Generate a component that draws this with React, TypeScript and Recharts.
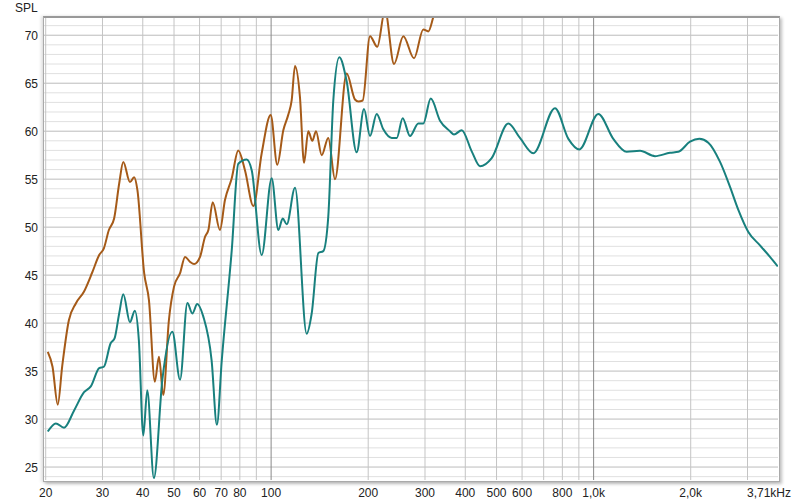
import { LineChart, Line, XAxis, YAxis, ReferenceLine } from 'recharts';

// measured curves (frequency in Hz, level in dB SPL)
const tealFreq = [
  20.3, 21.5, 22.8, 24.5, 26.3, 27.6, 29.3, 30.3, 31.8, 32.7, 33.8, 34.8, 36.5, 37.8, 38.9, 40.15, 41.3, 43.3, 46.0,
  49.4, 52.2, 55.0, 57.0, 59.0, 61.6, 65.4, 67.9, 70.3, 75.5, 79.1, 84.0, 87.1, 93.5, 100.4, 105.3, 108.6, 111.8,
  118.6, 128.9, 133.6, 140.1, 145.1, 150.4, 155.9, 162.7, 171.5, 184.2, 194.1, 202.6, 212.5, 222.8, 236.6, 245.2,
  255.8, 269.6, 286.0, 296.4, 312.6, 334.0, 358.6, 369, 390, 418.8, 444.4, 483, 543.8, 591, 650, 759, 835, 903,
  1034, 1151, 1266, 1393, 1550, 1725, 1831, 1990, 2127, 2268, 2466, 2648, 2810, 3018, 3280, 3523, 3725,
];
const tealSpl = [
  28.7, 29.55, 29.1, 30.9, 32.8, 33.4, 35.3, 35.45, 37.9, 38.4, 41.0, 43.0, 40.1, 41.3, 38.2, 28.3, 33.0, 23.85, 34.1,
  39.1, 34.1, 42.1, 41.0, 42.0, 40.7, 36.1, 29.4, 36.1, 47.6, 56.6, 57.05, 55.9, 47.1, 55.1, 49.7, 50.9, 50.3,
  54.1, 38.9, 41.0, 47.3, 47.5, 51.1, 63.2, 67.7, 65.2, 57.8, 62.3, 59.5, 61.8, 60.2, 59.3, 59.3,
  61.35, 59.5, 60.8, 60.8, 63.4, 61.1, 60.0, 59.65, 60.1, 57.9, 56.35, 57.2, 60.8, 59.3, 57.7, 62.4, 59.2, 58.1,
  61.8, 59.2, 57.85, 57.95, 57.4, 57.75, 57.85, 58.9, 59.2, 58.8, 56.8, 54.2, 51.8, 49.5, 48.1, 46.9, 45.9,
];

const orangeFreq = [
  20.3, 21.0, 21.8, 22.5, 23.6, 24.8, 26.3, 27.9, 29.3, 30.3, 31.4, 32.6, 33.8, 34.8, 36.5, 37.6, 38.5, 40.4, 41.8,
  43.6, 44.9, 46.3, 48.2, 50.0, 52.2, 54.1, 56.0, 57.7, 60.2, 62.4, 63.9, 65.9, 69.4, 71.9, 75.5, 79.1, 83.0, 88.1,
  93.5, 99.7, 104.5, 109.1, 113.0, 115.8, 118.6, 122.9, 126.5, 130.4, 134.2, 137.8, 143.5, 150.4, 157.8, 171.5,
  182.0, 186.4, 192.3, 202.6, 213.4, 225.5, 240.5, 257, 277.4, 296.4, 307.2, 318.4, 329,
];
const orangeSpl = [
  37.0, 35.45, 31.5, 35.5, 40.3, 42.05, 43.3, 45.3, 47.1, 47.8, 49.7, 50.9, 54.55, 56.8, 54.7, 55.2, 53.85, 45.2, 42.4,
  33.9, 36.5, 32.5, 40.3, 43.8, 45.2, 46.9, 46.4, 46.15, 46.9, 49.0, 49.7, 52.6, 49.7, 52.8, 55.1, 58.0, 55.9, 52.2,
  57.7, 61.7, 56.5, 60.1, 61.7, 63.2, 66.8, 63.5, 56.7, 60.0, 59.0, 60.0, 57.5, 59.3, 55.0, 66.0,
  63.3, 63.1, 63.2, 69.9, 68.8, 72.6, 67.0, 69.9, 67.6, 70.6, 70.4, 71.9, 73.5,
];

const xTicks = [20, 30, 40, 50, 60, 70, 80, 100, 200, 300, 400, 500, 600, 800, 1000, 2000, 3710];
const yTicks = [25, 30, 35, 40, 45, 50, 55, 60, 65, 70];
const xGrid = [20, 30, 40, 50, 60, 70, 80, 90, 100, 200, 300, 400, 500, 600, 700, 800, 900, 1000, 2000, 3000];
const yGrid = Array.from({ length: 48 }, (_, i) => 24 + i);

const tealData = tealFreq.map((f, i) => ({ f, v: tealSpl[i] }));
const orangeData = orangeFreq.map((f, i) => ({ f, v: orangeSpl[i] }));

const fmtFreq = (v: number) => {
  if (v === 3710) return '3,71kHz';
  if (v >= 1000) return (v / 1000).toFixed(1).replace('.', ',') + 'k';
  return String(v);
};

const XTick = (props: any) => {
  const { x, payload } = props;
  const last = payload.value === 3710;
  return (
    <text x={last ? 791 : x} y={497} textAnchor={last ? 'end' : 'middle'} fill="#222" fontSize={12}
      fontFamily="'Liberation Sans', Arial, sans-serif">
      {fmtFreq(payload.value)}
    </text>
  );
};

const YTick = (props: any) => {
  const { y, payload } = props;
  return (
    <text x={38} y={y + 4.5} textAnchor="end" fill="#222" fontSize={12}
      fontFamily="'Liberation Sans', Arial, sans-serif">
      {payload.value}
    </text>
  );
};

export default function App() {
  return (
    <div style={{ position: 'absolute', left: 0, top: 0, width: 800, height: 504, background: '#fff' }}>
      <div style={{ position: 'absolute', left: 15, top: 1, fontSize: 12, color: '#222',
        fontFamily: "'Liberation Sans', Arial, sans-serif" }}>SPL</div>
      <LineChart width={800} height={504} margin={{ top: 17, right: 22, bottom: 0, left: 0 }}>
        <XAxis type="number" dataKey="f" scale="log" domain={[19.76, 3730]} ticks={xTicks}
          allowDataOverflow axisLine={false} tickLine={false} height={24} interval={0} tick={<XTick />} />
        <YAxis type="number" domain={[23.65, 71.9]} ticks={yTicks} allowDataOverflow
          axisLine={false} tickLine={false} width={44} interval={0} tick={<YTick />} />
        {yGrid.map((v) => (
          <ReferenceLine key={'h' + v} y={v} stroke={v % 5 === 0 ? '#bcbcbc' : '#e0e0e0'} strokeWidth={1} />
        ))}
        {xGrid.map((v) => (
          <ReferenceLine key={'v' + v} x={v} stroke={v === 100 || v === 1000 ? '#8a8a8a' : '#c4c4c4'} strokeWidth={1} />
        ))}
        <Line data={orangeData} dataKey="v" type="monotone" stroke="#a55a18" strokeWidth={2}
          dot={false} isAnimationActive={false} />
        <Line data={tealData} dataKey="v" type="monotone" stroke="#18807e" strokeWidth={2}
          dot={false} isAnimationActive={false} />
      </LineChart>
      <div style={{ position: 'absolute', left: 43, top: 16, width: 735, height: 463,
        borderTop: '2px solid #999', borderLeft: '1px solid #aaa', borderRight: '1px solid #aaa',
        borderBottom: '1px solid #aaa', boxShadow: '2px 2px 3px rgba(0,0,0,0.25), -2px 0 3px rgba(0,0,0,0.12)',
        pointerEvents: 'none' }} />
    </div>
  );
}
